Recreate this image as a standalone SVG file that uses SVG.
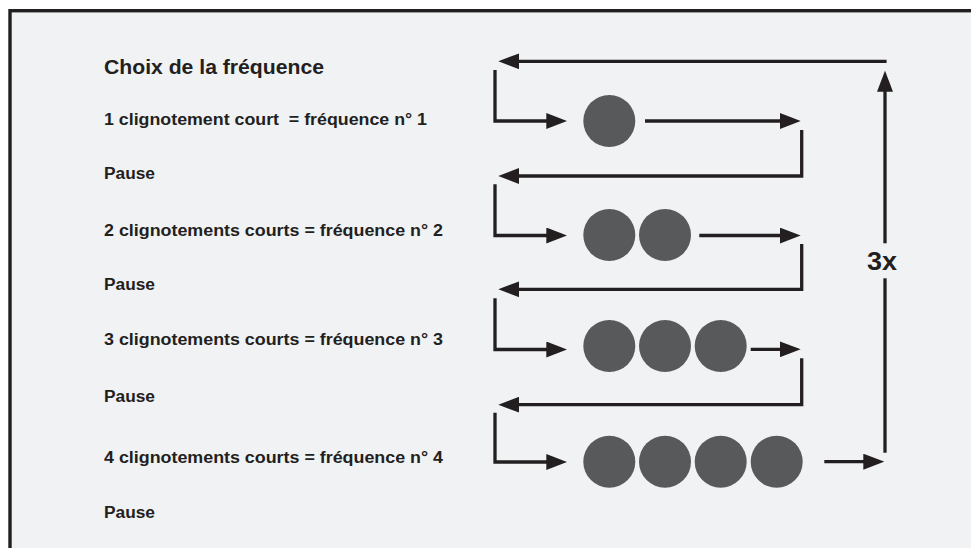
<svg xmlns="http://www.w3.org/2000/svg" width="971" height="548" viewBox="0 0 971 548">
<style>
.t{font-family:"Liberation Sans",Arial,sans-serif;font-weight:bold;fill:#231f20}
.s{font-size:16px}
.c{fill:#58595b}
.l{fill:none;stroke:#231f20;stroke-width:3.3;stroke-linejoin:miter}
.a{marker-end:url(#ah)}
</style>
<defs>
<marker id="ah" viewBox="0 0 21 16" refX="10" refY="8" markerWidth="21" markerHeight="16" markerUnits="userSpaceOnUse" orient="auto">
<path d="M0,0 L21,8 L0,16 z" fill="#231f20"/>
</marker>
</defs>
<rect x="0" y="0" width="971" height="548" fill="#ffffff"/>
<rect id="frame" x="10" y="10.7" width="990" height="560" fill="#f1f2f4" stroke="#231f20" stroke-width="3.4"/>

<g id="labels">
<text class="t" x="104" y="74" font-size="20" textLength="220" lengthAdjust="spacingAndGlyphs">Choix de la fréquence</text>
<text class="t s" x="104" y="124.5" textLength="323" lengthAdjust="spacingAndGlyphs" xml:space="preserve">1 clignotement court  = fréquence n° 1</text>
<text class="t s" x="104" y="179" textLength="51" lengthAdjust="spacingAndGlyphs">Pause</text>
<text class="t s" x="104" y="235.5" textLength="339" lengthAdjust="spacingAndGlyphs">2 clignotements courts = fréquence n° 2</text>
<text class="t s" x="104" y="289.5" textLength="51" lengthAdjust="spacingAndGlyphs">Pause</text>
<text class="t s" x="104" y="345" textLength="339" lengthAdjust="spacingAndGlyphs">3 clignotements courts = fréquence n° 3</text>
<text class="t s" x="104" y="401.5" textLength="51" lengthAdjust="spacingAndGlyphs">Pause</text>
<text class="t s" x="104" y="463" textLength="339" lengthAdjust="spacingAndGlyphs">4 clignotements courts = fréquence n° 4</text>
<text class="t s" x="104" y="518" textLength="51" lengthAdjust="spacingAndGlyphs">Pause</text>
</g>

<g id="node-freq1">
<circle class="c" cx="609.3" cy="121" r="26"/>
</g>
<g id="node-freq2">
<circle class="c" cx="609.3" cy="235" r="26"/>
<circle class="c" cx="665" cy="235" r="26"/>
</g>
<g id="node-freq3">
<circle class="c" cx="609.3" cy="346" r="26"/>
<circle class="c" cx="665" cy="346" r="26"/>
<circle class="c" cx="720.7" cy="346" r="26"/>
</g>
<g id="node-freq4">
<circle class="c" cx="609.3" cy="461.7" r="26"/>
<circle class="c" cx="665" cy="461.7" r="26"/>
<circle class="c" cx="720.7" cy="461.7" r="26"/>
<circle class="c" cx="776.7" cy="461.7" r="26"/>
</g>
<g id="node-repeat">
<text class="t" x="867" y="269.5" font-size="26" textLength="30" lengthAdjust="spacingAndGlyphs">3x</text>
</g>

<g id="connectors">
<path class="l a" d="M886.6,61.3 H509.3"/>
<path class="l a" d="M495,70 V121 H556.3"/>
<path class="l a" d="M645,121 H789.7"/>
<path class="l a" d="M801.7,130 V176 H509.3"/>
<path class="l a" d="M495,184.3 V235.5 H556.3"/>
<path class="l a" d="M699.3,235.5 H789.7"/>
<path class="l a" d="M801.7,244 V289.3 H509.3"/>
<path class="l a" d="M495,298.3 V349.5 H556.3"/>
<path class="l a" d="M750.7,349.3 H789.7"/>
<path class="l a" d="M801.7,358.3 V404.7 H509.3"/>
<path class="l a" d="M495,412.7 V462 H556.3"/>
<path class="l a" d="M824.3,461.7 H873.3"/>
<path class="l" d="M885,452.7 V278.3"/>
<path class="l a" d="M885,243.3 V81.7"/>
</g>
</svg>
